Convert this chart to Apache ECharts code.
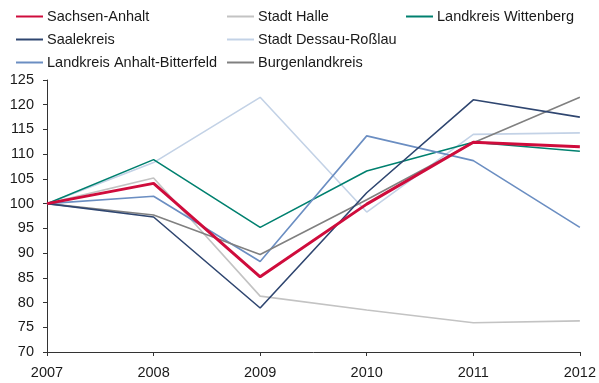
<!DOCTYPE html>
<html>
<head>
<meta charset="utf-8">
<script src="https://cdn.jsdelivr.net/npm/echarts@6/dist/echarts.min.js"></script>
<style>
  html, body { margin: 0; padding: 0; background: #fff; }
  #chart { width: 599px; height: 383px; }
</style>
</head>
<body>
<div id="chart"></div>
<script>
// Index (2007 = 100) by region
var years = ['2007', '2008', '2009', '2010', '2011', '2012'];
var sachsenAnhalt = [100, 104.1, 85.2, 99.9, 112.4, 111.5];
var stadtHalle = [100, 105.2, 81.3, 78.5, 75.9, 76.3];
var wittenberg = [100, 108.9, 95.2, 106.6, 112.4, 110.6];
var saalekreis = [100, 97.3, 78.9, 102.2, 121.0, 117.5];
var dessauRosslau = [100, 108.3, 121.5, 98.3, 114.0, 114.3];
var anhaltBitterfeld = [100, 101.5, 88.3, 113.7, 108.7, 95.2];
var burgenland = [100, 97.7, 89.7, 100.8, 112.3, 121.5];
var yTicks = { min: 70, max: 125, step: 5 };

var seriesDefs = [
  { name: 'Sachsen-Anhalt', data: sachsenAnhalt, color: '#cf0c3c', width: 3, z: 10 },
  { name: 'Stadt Halle', data: stadtHalle, color: '#c3c3c3', width: 1.6, z: 2 },
  { name: 'Landkreis Wittenberg', data: wittenberg, color: '#00806f', width: 1.6, z: 3 },
  { name: 'Saalekreis', data: saalekreis, color: '#2f4670', width: 1.6, z: 4 },
  { name: 'Stadt Dessau-Roßlau', data: dessauRosslau, color: '#c3d2e6', width: 1.6, z: 2 },
  { name: 'Landkreis Anhalt-Bitterfeld', data: anhaltBitterfeld, color: '#6b8ec2', width: 1.6, z: 3 },
  { name: 'Burgenlandkreis', data: burgenland, color: '#808080', width: 1.6, z: 3 }
];

var font = 'Liberation Sans, Arial, Helvetica, sans-serif';
var legendCommon = {
  orient: 'vertical',
  top: 4,
  itemWidth: 27,
  itemHeight: 12,
  itemGap: 8,
  icon: 'path://M0,5 L27,5 L27,7 L0,7 Z',
  selectedMode: false,
  textStyle: { fontFamily: font, fontSize: 14.5, color: '#1a1a1a', padding: [0, 0, 0, -1] }
};

var chart = echarts.init(document.getElementById('chart'), null, { renderer: 'canvas' });
chart.setOption({
  animation: false,
  backgroundColor: '#ffffff',
  color: seriesDefs.map(function (s) { return s.color; }),
  legend: [
    Object.assign({ left: 11, data: ['Sachsen-Anhalt', 'Saalekreis', 'Landkreis Anhalt-Bitterfeld'] }, legendCommon),
    Object.assign({ left: 222, data: ['Stadt Halle', 'Stadt Dessau-Roßlau', 'Burgenlandkreis'] }, legendCommon),
    Object.assign({ left: 401, data: ['Landkreis Wittenberg'] }, legendCommon)
  ],
  grid: { left: 47, right: 18, top: 80, bottom: 31, containLabel: false },
  xAxis: {
    type: 'category',
    data: years,
    boundaryGap: false,
    axisLine: { lineStyle: { color: '#333', width: 1 } },
    axisTick: { alignWithLabel: true, length: 4, lineStyle: { color: '#333' } },
    axisLabel: { fontFamily: font, fontSize: 14.5, color: '#1a1a1a', margin: 13 },
    splitLine: { show: false }
  },
  yAxis: {
    type: 'value',
    min: yTicks.min,
    max: yTicks.max,
    interval: yTicks.step,
    axisLine: { show: true, lineStyle: { color: '#333', width: 1 } },
    axisTick: { show: true, length: 4, lineStyle: { color: '#333' } },
    axisLabel: { fontFamily: font, fontSize: 14.5, color: '#1a1a1a', margin: 13 },
    splitLine: { show: false }
  },
  series: seriesDefs.map(function (s) {
    return {
      name: s.name,
      type: 'line',
      data: s.data,
      z: s.z,
      symbol: 'none',
      lineStyle: { color: s.color, width: s.width },
      itemStyle: { color: s.color }
    };
  })
});
</script>
</body>
</html>
